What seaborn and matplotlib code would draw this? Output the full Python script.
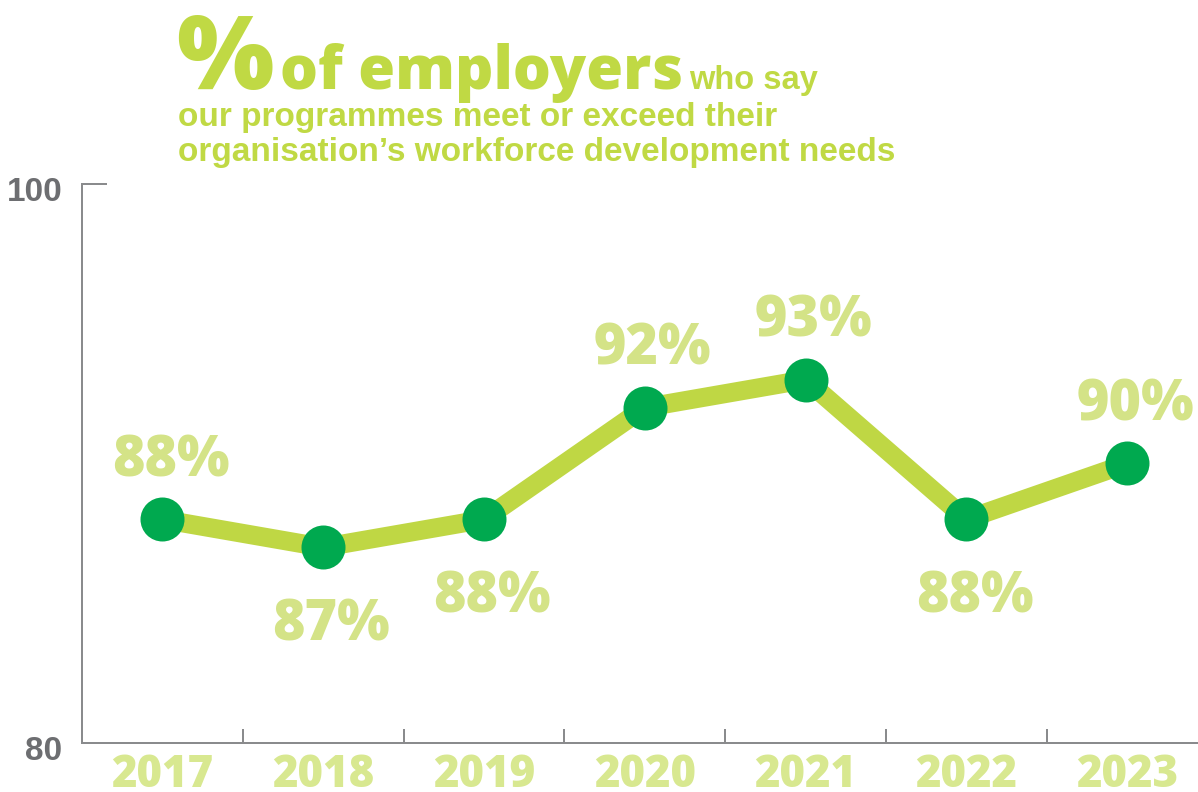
import numpy as np
import pandas as pd
import matplotlib
matplotlib.use("Agg")
import matplotlib.pyplot as plt
import matplotlib.transforms as mtransforms
from matplotlib import font_manager as fm
from matplotlib.ticker import FixedLocator
import seaborn as sns

# ---- data -------------------------------------------------------------
years = ["2017", "2018", "2019", "2020", "2021", "2022", "2023"]
share = [88, 87, 88, 92, 93, 88, 90]
label_side = ["above", "below", "below", "above", "above", "below", "above"]
y_ticks = [80, 100]

title_symbol = "%"
title_main = "of employers"
title_tail = "who say"
subtitle_lines = [
    "our programmes meet or exceed their",
    "organisation\u2019s workforce development needs",
]

# ---- style ------------------------------------------------------------
LINE = "#bfd744"
DOT = "#00a94f"
TITLE = "#c0d944"
VALUE = "#d4e387"
YEAR = "#d8e890"
GREY_TXT = "#6d6e71"
AXIS = "#8a8b8d"

sns.set_theme(style="white")
plt.rcParams["font.family"] = ["Liberation Sans", "DejaVu Sans"]


def heavy_font():
    """Return FontProperties for the heaviest upright face of a preferred family."""
    prefs = ["Noto Sans", "Open Sans", "Inter", "Roboto", "Lato"]
    for fam in prefs:
        faces = [f for f in fm.fontManager.ttflist
                 if f.name == fam and f.style == "normal"
                 and isinstance(f.weight, int) and f.weight >= 800
                 and "Condensed" not in f.fname and "Display" not in f.fname
                 and "Mono" not in f.fname]
        if faces:
            best = max(faces, key=lambda f: f.weight)
            return fm.FontProperties(fname=best.fname)
    return fm.FontProperties(family="DejaVu Sans", weight="bold")


HEAVY = heavy_font()


def heavy(size):
    fp = HEAVY.copy()
    fp.set_size(size)
    return fp


W, H = 1198, 792
PT = 72 / 100  # points per pixel at dpi 100

fig = plt.figure(figsize=(W / 100, H / 100), dpi=100)
fig.patch.set_facecolor("white")
ax = fig.add_axes([82 / W, 1 - 743 / H, (W - 82) / W, (743 - 184) / H])
ax.set_facecolor("white")

df = pd.DataFrame({"year": years, "share": share})
sns.lineplot(data=df, x="year", y="share", ax=ax, color=LINE, lw=19 * PT,
             sort=False, solid_joinstyle="round", solid_capstyle="butt", zorder=2)
sns.scatterplot(data=df, x="year", y="share", ax=ax, color=DOT, s=(44 * PT) ** 2,
                linewidth=0, zorder=3, clip_on=False)

ax.set_xlim(-0.5, 6.44)
ax.set_ylim(80, 100)
ax.set_xlabel("")
ax.set_ylabel("")
ax.grid(False)

# axes frame
for side in ("top", "right"):
    ax.spines[side].set_visible(False)
for side in ("left", "bottom"):
    ax.spines[side].set_color(AXIS)
    ax.spines[side].set_linewidth(2 * PT)

# x axis: year labels, separators between categories
ax.set_xticks(range(len(years)))
ax.set_xticklabels(years)
ax.xaxis.set_minor_locator(FixedLocator(np.arange(0.5, len(years) - 1, 1.0)))
ax.tick_params(axis="x", which="major", length=0, pad=7, labelcolor=YEAR,
               bottom=True)
ax.tick_params(axis="x", which="minor", direction="in", length=14 * PT,
               width=2 * PT, color=AXIS, bottom=True)
for t in ax.get_xticklabels():
    t.set_fontproperties(heavy(31.5))

# y axis: just the end values
ax.set_yticks(y_ticks)
ax.set_yticklabels([str(v) for v in y_ticks])
ax.tick_params(axis="y", which="major", direction="in", length=25 * PT,
               width=2 * PT, color=AXIS, left=True, pad=14, labelsize=24,
               labelcolor=GREY_TXT)
shift = mtransforms.ScaledTranslation(0, -5 / 100, fig.dpi_scale_trans)
for t in ax.get_yticklabels():
    t.set_fontfamily("Liberation Sans")
    t.set_fontweight("bold")
    t.set_transform(t.get_transform() + shift)

# value labels
for i, (v, side) in enumerate(zip(share, label_side)):
    dy = 43 if side == "above" else -93
    ax.annotate(f"{v}%", xy=(i, v), xytext=(8 * PT, dy * PT),
                textcoords="offset points", ha="center", va="baseline",
                fontproperties=heavy(40), color=VALUE, zorder=4)

# title block
renderer = fig.canvas.get_renderer()


def fx(px):
    return px / W


def fy(px_from_top):
    return 1 - px_from_top / H


t1 = fig.text(fx(176), fy(89), title_symbol, fontproperties=heavy(74),
              color=TITLE, va="baseline", ha="left")
x1 = t1.get_window_extent(renderer).x1
t2 = fig.text(fx(x1 + 7), fy(89), title_main, fontproperties=heavy(43),
              color=TITLE, va="baseline", ha="left")
x2 = t2.get_window_extent(renderer).x1
fig.text(fx(x2 + 5), fy(89), title_tail, fontsize=23.5, fontweight="bold",
         family="Liberation Sans", color=TITLE, va="baseline", ha="left")
for line, base in zip(subtitle_lines, (126, 161)):
    fig.text(fx(178), fy(base), line, fontsize=24, fontweight="bold",
             family="Liberation Sans", color=TITLE, va="baseline", ha="left")

fig.savefig("out.png", dpi=100, facecolor="white")
